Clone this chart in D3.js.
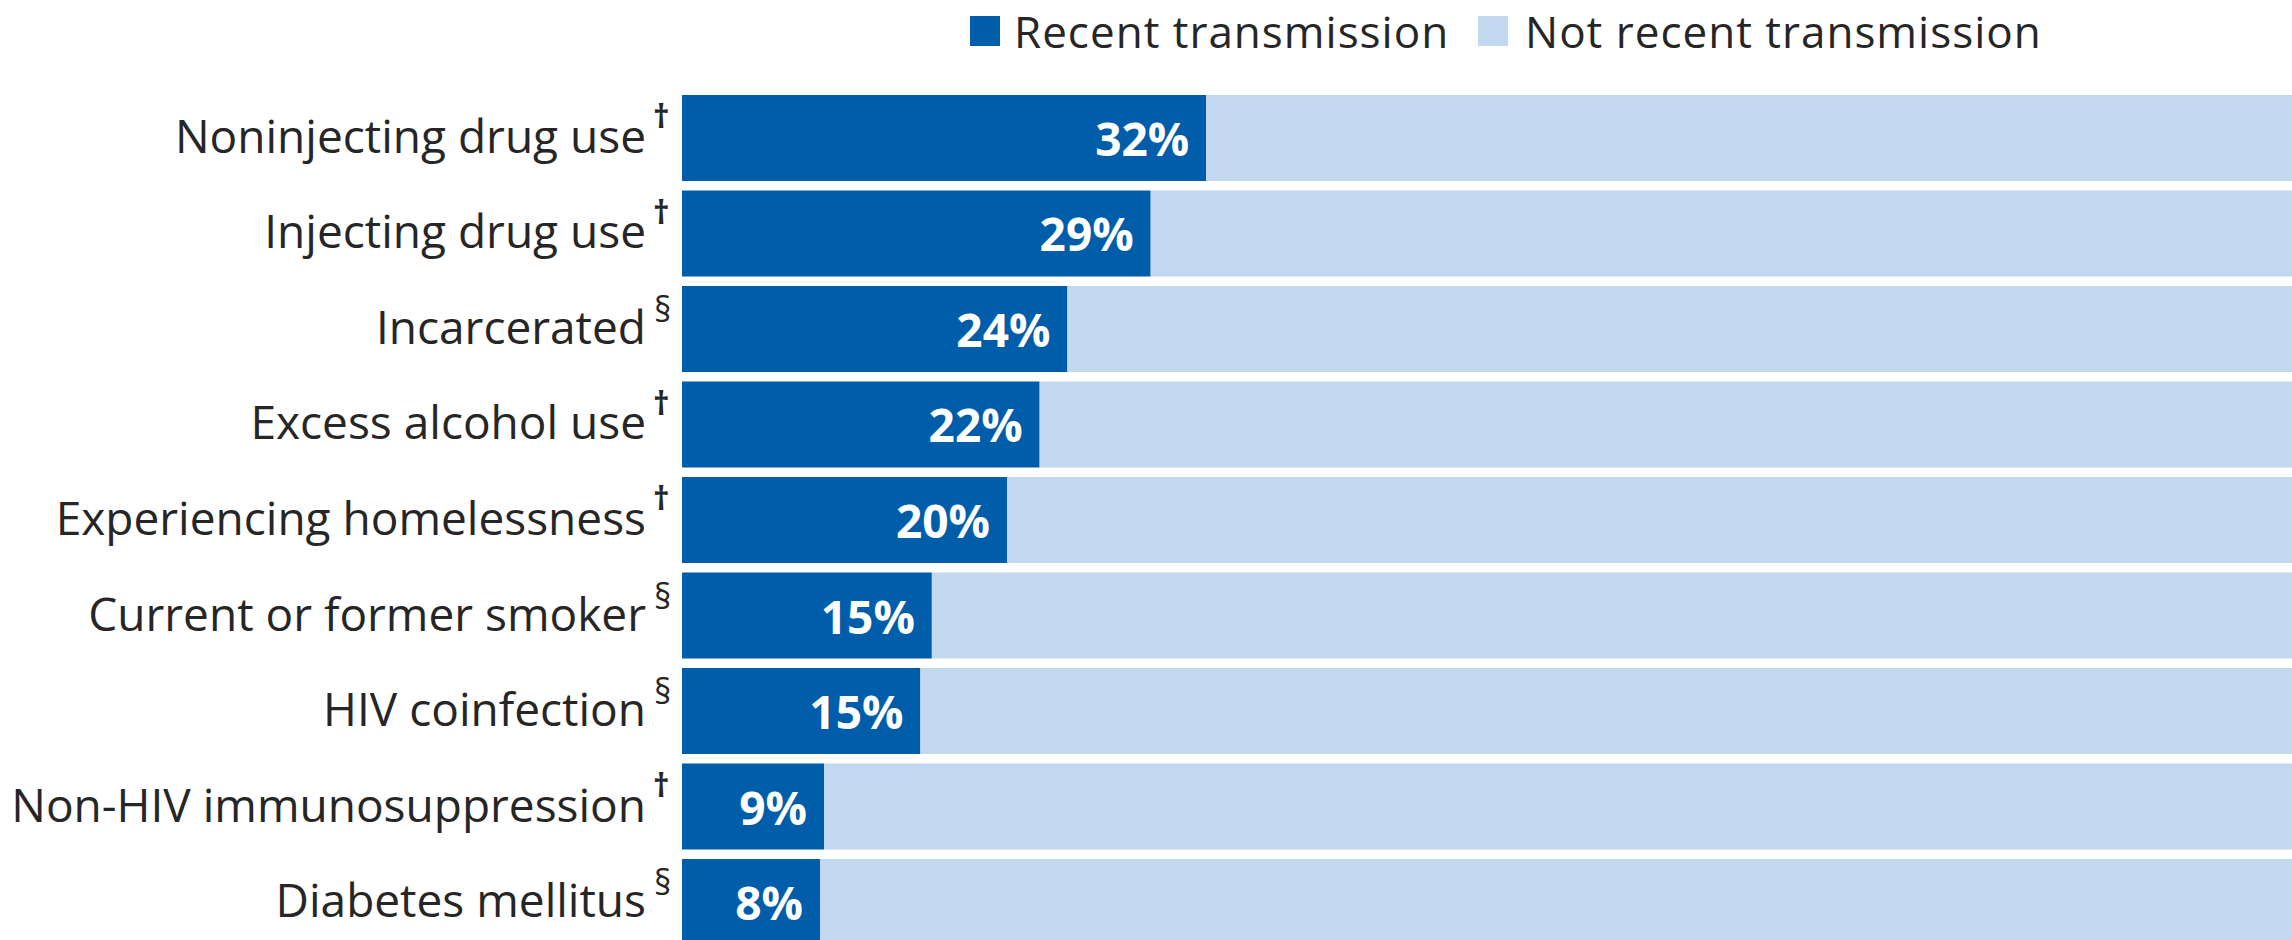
<!DOCTYPE html>
<html>
<head>
<meta charset="utf-8">
<script src="https://cdn.jsdelivr.net/npm/d3@7"></script>
<style>
  html, body { margin: 0; padding: 0; background: #ffffff; }
  svg { display: block; }
  text { font-family: "Open Sans", "Noto Sans", sans-serif; }
</style>
</head>
<body>
<svg id="chart" width="2292" height="940"></svg>
<script>
// ---- Data ----
const categories = [
  "Noninjecting drug use",
  "Injecting drug use",
  "Incarcerated",
  "Excess alcohol use",
  "Experiencing homelessness",
  "Current or former smoker",
  "HIV coinfection",
  "Non-HIV immunosuppression",
  "Diabetes mellitus"
];
const footnotes = ["†", "†", "§", "†", "†", "§", "§", "†", "§"];
const recentPct = [32.1, 28.7, 23.6, 21.9, 19.9, 15.3, 14.6, 8.7, 8.45];
const valueLabels = ["32%", "29%", "24%", "22%", "20%", "15%", "15%", "9%", "8%"];
const seriesNames = ["Recent transmission", "Not recent transmission"];
const seriesColors = ["#005DAA", "#C2D8EE"];

// ---- Layout ----
const W = 2292, H = 940;
const svg = d3.select("#chart");

const x = d3.scaleLinear().domain([0, 100]).range([682, 2315]);
const y = d3.scaleBand().domain(categories).range([95, 945]).paddingInner(0.0995).paddingOuter(0);

const rows = categories.map((c, i) => ({
  cat: c, note: footnotes[i], recent: recentPct[i], notRecent: 100 - recentPct[i], label: valueLabels[i]
}));

// stacked segments
const stack = d3.stack().keys(["recent", "notRecent"]);
const stacked = stack(rows);

svg.append("g").selectAll("g")
  .data(stacked)
  .join("g")
  .attr("fill", (d, i) => seriesColors[i])
  .selectAll("rect")
  .data(d => d.map(s => ({ s, cat: s.data.cat })))
  .join("rect")
  .attr("x", d => x(d.s[0]))
  .attr("width", d => x(d.s[1]) - x(d.s[0]))
  .attr("y", d => y(d.cat))
  .attr("height", y.bandwidth());

// value labels
svg.append("g").selectAll("text")
  .data(rows)
  .join("text")
  .attr("x", d => x(d.recent) - 17)
  .attr("y", d => y(d.cat) + y.bandwidth() / 2 + 18)
  .attr("text-anchor", "end")
  .attr("fill", "#ffffff")
  .attr("font-weight", 700)
  .attr("font-size", 46)
  .text(d => d.label);

// category labels
svg.append("g").selectAll("text")
  .data(rows)
  .join("text")
  .attr("x", 646)
  .attr("y", d => y(d.cat) + y.bandwidth() / 2 + 15)
  .attr("text-anchor", "end")
  .attr("fill", "#262626")
  .attr("font-size", 46)
  .text(d => d.cat);

// footnote marks
svg.append("g").selectAll("text")
  .data(rows)
  .join("text")
  .attr("x", d => d.note === "§" ? 654 : 653)
  .attr("y", d => y(d.cat) + (d.note === "§" ? 36 : 33))
  .attr("text-anchor", "start")
  .attr("fill", "#262626")
  .attr("font-size", d => d.note === "§" ? 34 : 32)
  .attr("font-weight", d => d.note === "†" ? 700 : 400)
  .text(d => d.note);

// legend
const legendX = [970, 1478];
const lg = svg.append("g").selectAll("g")
  .data(seriesNames)
  .join("g")
  .attr("transform", (d, i) => `translate(${legendX[i]},0)`);
lg.append("rect")
  .attr("x", 0).attr("y", 16).attr("width", 30).attr("height", 30)
  .attr("fill", (d, i) => seriesColors[i]);
lg.append("text")
  .attr("x", (d, i) => i === 0 ? 44 : 47)
  .attr("y", 48)
  .attr("fill", "#262626")
  .attr("font-size", 44)
  .attr("letter-spacing", 1)
  .text(d => d);
</script>
</body>
</html>
